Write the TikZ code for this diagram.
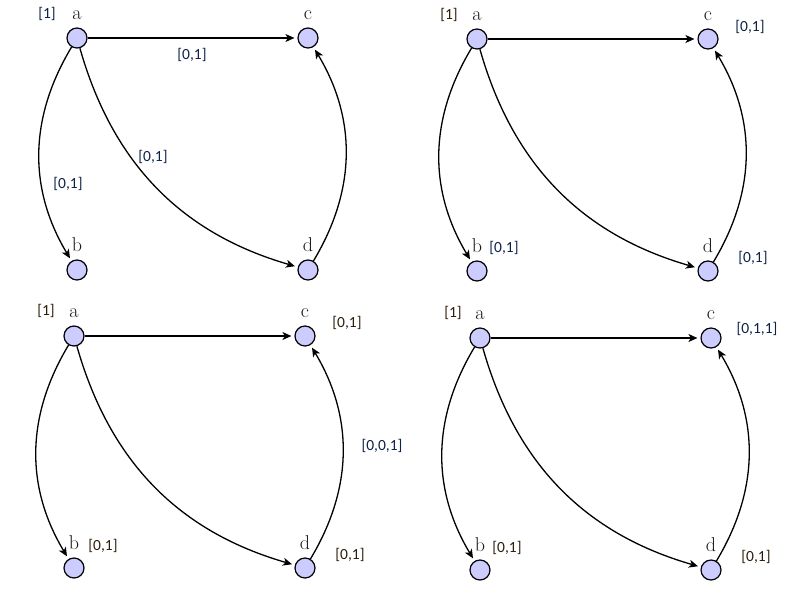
\documentclass[tikz,border=0pt]{standalone}
\usepackage{fontspec}
\newfontfamily\labfont{Carlito}
\usetikzlibrary{arrows.meta}
\definecolor{nodefill}{RGB}{204,204,255}
\definecolor{labblue}{RGB}{14,34,70}
\definecolor{labbrown}{RGB}{45,30,10}
\tikzset{
  vert/.style={circle, draw=black, fill=nodefill, line width=1.2pt, minimum size=20pt, inner sep=0pt},
  vlab/.style={font=\fontsize{20}{22}\selectfont, inner sep=0pt, text depth=0pt, label distance=8pt, text=black!90},
  edge/.style={line width=1.3pt, -{Stealth[length=9pt,width=8pt,inset=2.5pt]}, shorten >=3pt},
  val/.style={font=\labfont\fontsize{15.5}{17}\selectfont, inner sep=0pt},
}
\newcommand{\panelnodes}[1]{%
  \node[vert, label={[vlab]above:a}] (a#1) at (0,0) {};
  \node[vert, label={[vlab]above:c}] (c#1) at (231,0) {};
  \node[vert, label={[vlab]above:b}] (b#1) at (0,232) {};
  \node[vert, label={[vlab]above:d}] (d#1) at (231,232) {};
  \draw[edge] (a#1) -- (c#1);
  \draw[edge] (a#1) to[bend right=31] (b#1);
  \draw[edge] (a#1) to[bend right=29] (d#1);
  \draw[edge] (d#1) to[bend right=31] (c#1);
}
\begin{document}
\begin{tikzpicture}[x=1pt,y=-1pt]
\useasboundingbox (0,0) rectangle (799,591);
% panel 1
\begin{scope}[shift={(77,38)}]
  \panelnodes{1}
  \node[val, text=labblue] (p1one) at (-30,-24) {[1]};
  \node[val, text=labblue] (p1ac) at (115,17) {[0,1]};
  \node[val, text=labblue] (p1ad) at (76,119) {[0,1]};
  \node[val, text=labblue] (p1ab) at (-9,146) {[0,1]};
\end{scope}
% panel 2
\begin{scope}[shift={(477,39)}]
  \panelnodes{2}
  \node[val, text=labbrown] (p2one) at (-28,-24) {[1]};
  \node[val, text=labblue] (p2c) at (273,-12) {[0,1]};
  \node[val, text=labblue] (p2b) at (27,209) {[0,1]};
  \node[val, text=labblue] (p2d) at (276,219) {[0,1]};
\end{scope}
% panel 3
\begin{scope}[shift={(74,336)}]
  \panelnodes{3}
  \node[val, text=labbrown] (p3one) at (-28,-25) {[1]};
  \node[val, text=labbrown] (p3c) at (273,-13) {[0,1]};
  \node[val, text=labblue] (p3dc) at (308,110) {[0,0,1]};
  \node[val, text=labbrown] (p3b) at (29,210) {[0,1]};
  \node[val, text=labbrown] (p3d) at (276,219) {[0,1]};
\end{scope}
% panel 4
\begin{scope}[shift={(480,338)}]
  \panelnodes{4}
  \node[val, text=labbrown] (p4one) at (-27,-25) {[1]};
  \node[val, text=labblue] (p4c) at (277,-9) {[0,1,1]};
  \node[val, text=labbrown] (p4b) at (27,210) {[0,1]};
  \node[val, text=labbrown] (p4d) at (276,219) {[0,1]};
\end{scope}
\end{tikzpicture}
\end{document}
